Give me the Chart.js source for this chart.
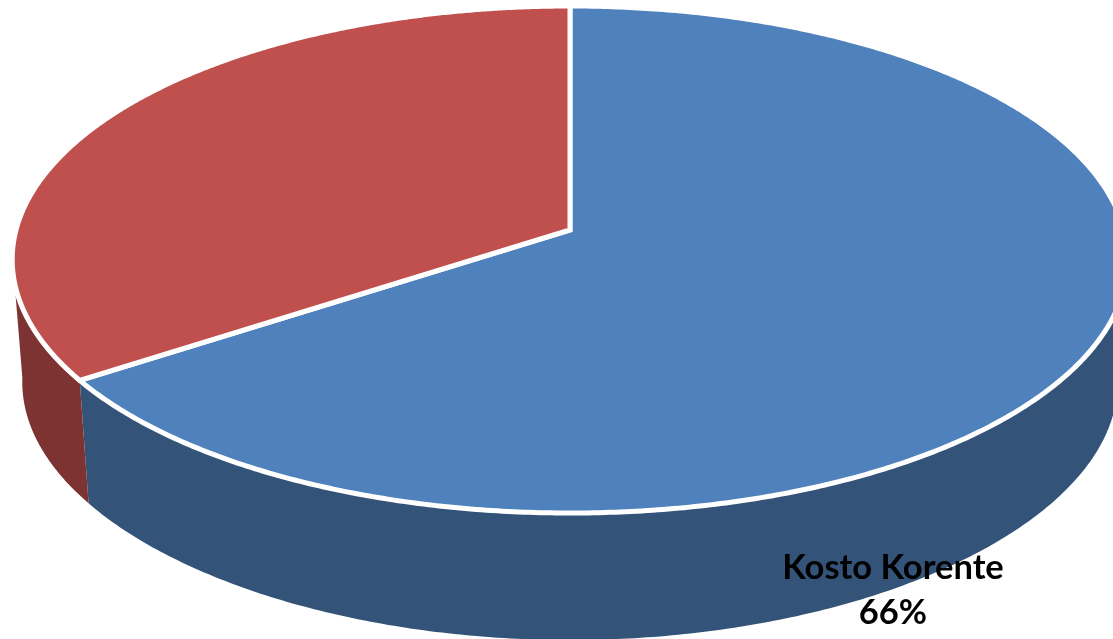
<!DOCTYPE html>
<html>
<head>
<meta charset="utf-8">
<style>html,body{margin:0;padding:0;background:#fff;overflow:hidden}canvas{display:block}</style>
<script src="https://cdn.jsdelivr.net/npm/chart.js@4"></script>
</head>
<body>
<canvas id="c" width="1113" height="639"></canvas>
<script>
const categories = ['Kosto Korente', ''];
const shares = [65.5, 34.5];
const topColors = ['#4F81BD', '#C0504D'];
const wallColors = ['#345378', '#7D3331'];

const view = {cx:570, y0:230, A:223.3, k:-0.1164, R:554, Rb:544, depth:122.5, depthFront:4.5, wallV:0.1};
const project = (t, R, withDepth) => {
  const u = Math.sin(t), v = -Math.cos(t), w = 1 + view.k * v;
  const dy = withDepth ? view.depth + view.depthFront * Math.pow(Math.max(v, 0), 4) : 0;
  return [view.cx + R * u / w, (view.A * v + view.y0) / w + dy];
};
const tilted3D = {
  id: 'tilted3D',
  beforeDatasetsDraw(chart) {
    const ctx = chart.ctx, arcs = chart.getDatasetMeta(0).data;
    const limit = Math.PI - Math.acos(view.wallV);   // right-hand silhouette
    const limitL = Math.PI + Math.acos(view.wallV);  // left-hand silhouette
    arcs.forEach((arc, i) => {
      const a = Math.max(arc.startAngle + Math.PI / 2, limit);
      const b = Math.min(arc.endAngle + Math.PI / 2, limitL);
      if (b <= a) return;
      ctx.beginPath();
      const n = 240;
      for (let s = 0; s <= n; s++) {
        const p = project(a + (b - a) * s / n, view.R, false);
        s ? ctx.lineTo(p[0], p[1]) : ctx.moveTo(p[0], p[1]);
      }
      for (let s = n; s >= 0; s--) {
        const p = project(a + (b - a) * s / n, view.Rb, true);
        ctx.lineTo(p[0], p[1]);
      }
      ctx.closePath();
      ctx.fillStyle = wallColors[i];
      ctx.fill();
    });
    arcs.forEach((arc, i) => {
      const a = arc.startAngle + Math.PI / 2, b = arc.endAngle + Math.PI / 2;
      ctx.beginPath();
      ctx.moveTo(view.cx, view.y0);
      const n = 480;
      for (let s = 0; s <= n; s++) {
        const p = project(a + (b - a) * s / n, view.R, false);
        ctx.lineTo(p[0], p[1]);
      }
      ctx.closePath();
      ctx.fillStyle = topColors[i];
      ctx.fill();
      ctx.lineWidth = 5;
      ctx.strokeStyle = '#fff';
      ctx.lineJoin = 'miter';
      ctx.stroke();
    });
    return false;
  },
  afterDraw(chart) {
    const ctx = chart.ctx;
    const total = shares.reduce((x, y) => x + y, 0);
    ctx.save();
    ctx.fillStyle = '#000';
    ctx.font = 'bold 34.5px Lato, sans-serif';
    ctx.textAlign = 'center';
    ctx.textBaseline = 'alphabetic';
    ctx.fillText(categories[0], 893, 579);
    ctx.fillText(Math.round(shares[0] / total * 100) + '%', 893, 624);
    ctx.restore();
  }
};
new Chart(document.getElementById('c'), {
  type: 'pie',
  data: {labels: categories, datasets: [{data: shares, backgroundColor: topColors, borderColor: '#fff'}]},
  options: {
    responsive: false,
    animation: false,
    rotation: 0,
    plugins: {legend: {display: false}, tooltip: {enabled: false}}
  },
  plugins: [tilted3D]
});
</script>
</body>
</html>
